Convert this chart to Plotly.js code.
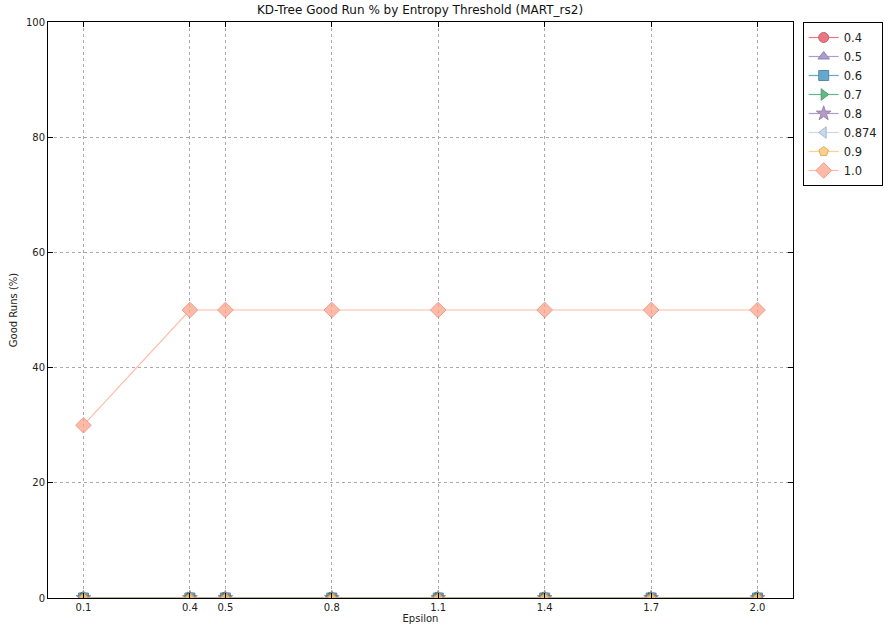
<!DOCTYPE html>
<html>
<head>
<meta charset="utf-8">
<script src="https://cdn.plot.ly/plotly-3.0.1.min.js"></script>
<style>html,body{margin:0;padding:0;background:#fff;}#chart{width:889px;height:629px;}</style>
</head>
<body>
<div id="chart"></div>
<script>
const epsilon = [0.1, 0.4, 0.5, 0.8, 1.1, 1.4, 1.7, 2.0];
const tickLabels = ["0.1", "0.4", "0.5", "0.8", "1.1", "1.4", "1.7", "2.0"];
const thresholds = ["0.4", "0.5", "0.6", "0.7", "0.8", "0.874", "0.9", "1.0"];
const good_0_4 = [0, 0, 0, 0, 0, 0, 0, 0];
const good_0_5 = [0, 0, 0, 0, 0, 0, 0, 0];
const good_0_6 = [0, 0, 0, 0, 0, 0, 0, 0];
const good_0_7 = [0, 0, 0, 0, 0, 0, 0, 0];
const good_0_8 = [0, 0, 0, 0, 0, 0, 0, 0];
const good_0_874 = [0, 0, 0, 0, 0, 0, 0, 0];
const good_0_9 = [0, 0, 0, 0, 0, 0, 0, 0];
const good_1_0 = [30, 50, 50, 50, 50, 50, 50, 50];
const seriesValues = [good_0_4, good_0_5, good_0_6, good_0_7, good_0_8, good_0_874, good_0_9, good_1_0];

const colors = ["#e24a5a", "#8e7cc3", "#348abd", "#2ca25f", "#9b7bb5", "#b5cde8", "#fbc15e", "#ffa48a"];
const edgeColors = ["#b03040", "#6a5a9a", "#24628a", "#1f7a45", "#7a5a95", "#8aa0c0", "#c89a30", "#e0806a"];
const symbols = ["circle", "triangle-up", "square", "triangle-right", "star", "triangle-left", "pentagon", "diamond"];
const sizes = [10, 10, 10, 10, 11, 10, 10, 12];

const traces = thresholds.map((t, i) => ({
  x: epsilon,
  y: seriesValues[i],
  name: t,
  type: "scatter",
  mode: "lines+markers",
  cliponaxis: true,
  line: {color: colors[i], width: 1.2},
  opacity: 0.75,
  marker: {symbol: symbols[i], size: sizes[i], color: colors[i], line: {color: edgeColors[i], width: 1}}
}));

const layout = {
  width: 889, height: 629,
  paper_bgcolor: "#ffffff", plot_bgcolor: "#ffffff",
  font: {family: "DejaVu Sans, sans-serif", size: 10, color: "#222"},
  margin: {l: 48, r: 96, t: 22, b: 31, autoexpand: false},
  title: {text: "KD-Tree Good Run % by Entropy Threshold (MART_rs2)", x: 0.4725, xanchor: "center", y: 0.984, yanchor: "middle", font: {size: 12, color: "#111"}},
  xaxis: {
    range: [0, 2.1], tickvals: epsilon, ticktext: tickLabels,
    showline: true, linecolor: "#000", linewidth: 1, mirror: "allticks",
    ticks: "inside", ticklen: 5, tickcolor: "#000",
    showgrid: true, gridcolor: "#aaa", griddash: "dot", gridwidth: 1,
    zeroline: false,
    title: {text: "Epsilon", standoff: 2, font: {size: 10}}
  },
  yaxis: {
    range: [0, 100], tickvals: [0, 20, 40, 60, 80, 100],
    showline: true, linecolor: "#000", linewidth: 1, mirror: "allticks",
    ticks: "inside", ticklen: 5, tickcolor: "#000",
    showgrid: true, gridcolor: "#aaa", griddash: "dot", gridwidth: 1,
    zeroline: false,
    title: {text: "Good Runs (%)", standoff: 6, font: {size: 10}}
  },
  legend: {
    x: 1.013, xanchor: "left", y: 1, yanchor: "top",
    bordercolor: "#000", borderwidth: 1, bgcolor: "#fff",
    font: {size: 11.5, color: "#222"}, tracegroupgap: 0, itemwidth: 30
  },
  showlegend: true
};

Plotly.newPlot("chart", traces, layout, {displayModeBar: false, staticPlot: true});
</script>
</body>
</html>
